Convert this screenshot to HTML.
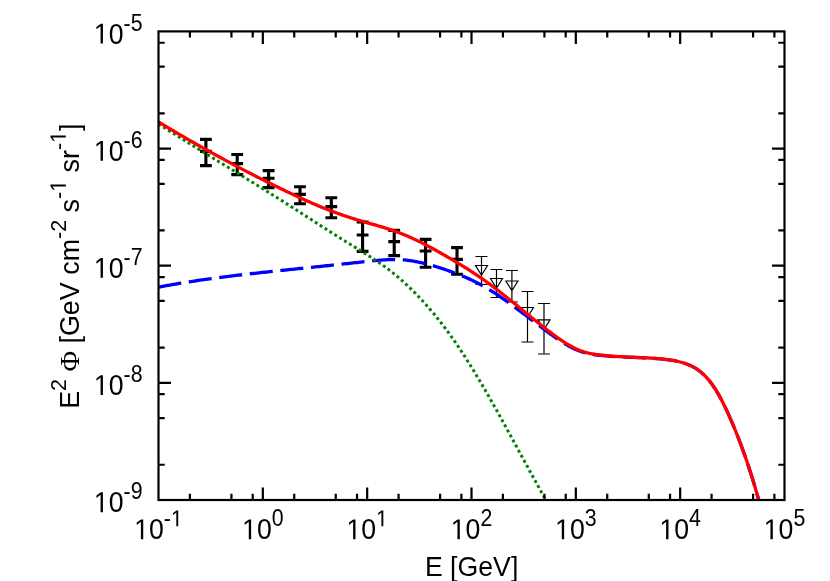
<!DOCTYPE html>
<html><head><meta charset="utf-8"><title>plot</title>
<style>
html,body{margin:0;padding:0;background:#fff;}
body{width:830px;height:581px;overflow:hidden;}
svg{display:block;will-change:transform;}
text{font-family:"Liberation Sans",sans-serif;fill:#000;font-kerning:none;}
.phi{font-family:"Liberation Serif",serif;}
</style></head><body>
<svg width="830" height="581" viewBox="0 0 830 581">
<rect x="0" y="0" width="830" height="581" fill="#fff"/>
<path d="M205.90,139.40V165.60 M200.00,139.40H211.80 M200.00,165.60H211.80 M200.00,151.40H211.80 M237.20,154.50V174.60 M231.30,154.50H243.10 M231.30,174.60H243.10 M231.30,163.60H243.10 M268.60,170.60V187.60 M262.70,170.60H274.50 M262.70,187.60H274.50 M262.70,178.30H274.50 M300.00,186.70V203.70 M294.10,186.70H305.90 M294.10,203.70H305.90 M294.10,194.40H305.90 M331.30,197.70V217.80 M325.40,197.70H337.20 M325.40,217.80H337.20 M325.40,206.60H337.20 M362.60,222.00V251.40 M356.70,222.00H368.50 M356.70,251.40H368.50 M356.70,235.00H368.50 M394.20,230.40V255.60 M388.30,230.40H400.10 M388.30,255.60H400.10 M388.30,241.60H400.10 M425.60,239.40V267.20 M419.70,239.40H431.50 M419.70,267.20H431.50 M419.70,251.00H431.50 M457.00,247.60V274.30 M451.10,247.60H462.90 M451.10,274.30H462.90 M451.10,259.40H462.90" fill="none" stroke="#000" stroke-width="3.1"/>
<path d="M481.50,256.50V284.50 M475.50,256.50H487.50 M475.50,284.50H487.50 M481.50,275.22 L475.50,265.50 L487.50,265.50 Z M496.50,269.50V297.50 M490.50,269.50H502.50 M490.50,297.50H502.50 M496.50,288.22 L490.50,278.50 L502.50,278.50 Z M511.90,270.50V302.00 M505.90,270.50H517.90 M505.90,302.00H517.90 M511.90,290.72 L505.90,281.00 L517.90,281.00 Z M527.50,291.50V342.00 M521.50,291.50H533.50 M521.50,342.00H533.50 M527.50,317.22 L521.50,307.50 L533.50,307.50 Z M544.00,303.50V354.00 M538.00,303.50H550.00 M538.00,354.00H550.00 M544.00,329.52 L538.00,319.80 L550.00,319.80 Z" fill="none" stroke="#000" stroke-width="1.2" stroke-linejoin="miter"/>
<clipPath id="c"><rect x="158.50" y="31.40" width="626.00" height="468.60"/></clipPath>
<g clip-path="url(#c)" fill="none">
<path d="M158.50,287.15 L160.39,286.79 L162.28,286.44 L164.17,286.09 L166.06,285.74 L167.95,285.40 L169.84,285.06 L171.73,284.73 L173.62,284.40 L175.51,284.07 L177.40,283.75 L179.29,283.43 L181.18,283.12 L183.07,282.81 L184.96,282.50 L186.85,282.20 L188.74,281.90 L190.63,281.61 L192.53,281.32 L194.42,281.03 L196.31,280.75 L198.20,280.46 L200.09,280.19 L201.98,279.91 L203.87,279.64 L205.76,279.37 L207.65,279.11 L209.54,278.85 L211.43,278.59 L213.32,278.33 L215.21,278.08 L217.10,277.83 L218.99,277.58 L220.88,277.33 L222.77,277.09 L224.66,276.85 L226.55,276.61 L228.44,276.37 L230.33,276.14 L232.22,275.91 L234.11,275.68 L236.00,275.45 L237.89,275.23 L239.78,275.00 L241.67,274.78 L243.56,274.56 L245.45,274.34 L247.34,274.13 L249.23,273.91 L251.12,273.70 L253.01,273.49 L254.90,273.28 L256.79,273.07 L258.68,272.86 L260.58,272.66 L262.47,272.45 L264.36,272.25 L266.25,272.04 L268.14,271.84 L270.03,271.64 L271.92,271.44 L273.81,271.24 L275.70,271.04 L277.59,270.84 L279.48,270.65 L281.37,270.45 L283.26,270.25 L285.15,270.06 L287.04,269.86 L288.93,269.67 L290.82,269.47 L292.71,269.28 L294.60,269.08 L296.49,268.89 L298.38,268.69 L300.27,268.50 L302.16,268.30 L304.05,268.11 L305.94,267.91 L307.83,267.71 L309.72,267.52 L311.61,267.32 L313.50,267.13 L315.39,266.93 L317.28,266.73 L319.17,266.53 L321.06,266.33 L322.95,266.14 L324.84,265.94 L326.74,265.74 L328.63,265.54 L330.52,265.34 L332.41,265.14 L334.30,264.94 L336.19,264.74 L338.08,264.54 L339.97,264.34 L341.86,264.14 L343.75,263.94 L345.64,263.73 L347.53,263.53 L349.42,263.33 L351.31,263.13 L353.20,262.92 L355.09,262.72 L356.98,262.52 L358.87,262.31 L360.76,262.11 L362.65,261.90 L364.54,261.70 L366.43,261.49 L368.32,261.29 L370.21,261.09 L372.10,260.89 L373.99,260.70 L375.88,260.52 L377.77,260.35 L379.66,260.19 L381.55,260.05 L383.44,259.92 L385.33,259.80 L387.22,259.71 L389.11,259.63 L391.00,259.58 L392.89,259.55 L394.79,259.54 L396.68,259.56 L398.57,259.62 L400.46,259.70 L402.35,259.81 L404.24,259.96 L406.13,260.14 L408.02,260.35 L409.91,260.60 L411.80,260.87 L413.69,261.18 L415.58,261.51 L417.47,261.87 L419.36,262.26 L421.25,262.67 L423.14,263.11 L425.03,263.56 L426.92,264.04 L428.81,264.54 L430.70,265.06 L432.59,265.60 L434.48,266.16 L436.37,266.73 L438.26,267.32 L440.15,267.92 L442.04,268.53 L443.93,269.16 L445.82,269.79 L447.71,270.44 L449.60,271.10 L451.49,271.78 L453.38,272.46 L455.27,273.17 L457.16,273.89 L459.05,274.63 L460.95,275.39 L462.84,276.16 L464.73,276.96 L466.62,277.78 L468.51,278.62 L470.40,279.49 L472.29,280.38 L474.18,281.29 L476.07,282.23 L477.96,283.20 L479.85,284.20 L481.74,285.23 L483.63,286.28 L485.52,287.37 L487.41,288.49 L489.30,289.63 L491.19,290.80 L493.08,292.00 L494.97,293.22 L496.86,294.47 L498.75,295.73 L500.64,297.02 L502.53,298.33 L504.42,299.65 L506.31,300.99 L508.20,302.35 L510.09,303.72 L511.98,305.10 L513.87,306.49 L515.76,307.90 L517.65,309.31 L519.54,310.73 L521.43,312.16 L523.32,313.60 L525.21,315.04 L527.11,316.48 L529.00,317.92 L530.89,319.36 L532.78,320.81 L534.67,322.25 L536.56,323.69 L538.45,325.12 L540.34,326.54 L542.23,327.96 L544.12,329.38 L546.01,330.78 L547.90,332.17 L549.79,333.55 L551.68,334.91 L553.57,336.26 L555.46,337.59 L557.35,338.89 L559.24,340.17 L561.13,341.41 L563.02,342.62 L564.91,343.79 L566.80,344.92 L568.69,346.00 L570.58,347.03 L572.47,348.00 L574.36,348.92 L576.25,349.78 L578.14,350.57 L580.03,351.29 L581.92,351.94 L583.81,352.52 L585.70,353.04 L587.59,353.50 L589.48,353.90 L591.37,354.24 L593.26,354.53 L595.16,354.79 L597.05,355.03 L598.94,355.24 L600.83,355.44 L602.72,355.63 L604.61,355.81 L606.50,355.98 L608.39,356.14 L610.28,356.29 L612.17,356.43 L614.06,356.55 L615.95,356.67 L617.84,356.77 L619.73,356.87 L621.62,356.96 L623.51,357.04 L625.40,357.12 L627.29,357.20 L629.18,357.27 L631.07,357.34 L632.96,357.40 L634.85,357.47 L636.74,357.54 L638.63,357.61 L640.52,357.68 L642.41,357.76 L644.30,357.84 L646.19,357.93 L648.08,358.02 L649.97,358.12 L651.86,358.24 L653.75,358.36 L655.64,358.49 L657.53,358.63 L659.42,358.79 L661.32,358.95 L663.21,359.14 L665.10,359.34 L666.99,359.57 L668.88,359.82 L670.77,360.09 L672.66,360.40 L674.55,360.74 L676.44,361.12 L678.33,361.54 L680.22,362.01 L682.11,362.53 L684.00,363.10 L685.89,363.74 L687.78,364.45 L689.67,365.24 L691.56,366.12 L693.45,367.10 L695.34,368.18 L697.23,369.40 L699.12,370.75 L701.01,372.24 L702.90,373.88 L704.79,375.68 L706.68,377.65 L708.57,379.80 L710.46,382.16 L712.35,384.71 L714.24,387.46 L716.13,390.42 L718.02,393.57 L719.91,396.92 L721.80,400.46 L723.69,404.20 L725.58,408.10 L727.47,412.15 L729.37,416.33 L731.26,420.63 L733.15,425.07 L735.04,429.65 L736.93,434.36 L738.82,439.22 L740.71,444.21 L742.60,449.34 L744.49,454.62 L746.38,460.05 L748.27,465.64 L750.16,471.41 L752.05,477.35 L753.94,483.50 L755.83,489.85 L757.72,496.43 L759.61,503.26 L761.50,505.98" stroke="#0000ff" stroke-width="3.30" stroke-dasharray="23.1 7.65"/>
<path d="M158.50,123.92 L160.39,125.13 L162.28,126.34 L164.17,127.55 L166.06,128.75 L167.95,129.95 L169.84,131.15 L171.73,132.35 L173.62,133.54 L175.51,134.73 L177.40,135.92 L179.29,137.11 L181.18,138.30 L183.07,139.48 L184.96,140.66 L186.85,141.84 L188.74,143.02 L190.63,144.20 L192.53,145.37 L194.42,146.55 L196.31,147.72 L198.20,148.89 L200.09,150.06 L201.98,151.23 L203.87,152.40 L205.76,153.57 L207.65,154.73 L209.54,155.90 L211.43,157.06 L213.32,158.23 L215.21,159.39 L217.10,160.55 L218.99,161.72 L220.88,162.88 L222.77,164.04 L224.66,165.20 L226.55,166.36 L228.44,167.53 L230.33,168.69 L232.22,169.85 L234.11,171.01 L236.00,172.17 L237.89,173.34 L239.78,174.50 L241.67,175.67 L243.56,176.83 L245.45,178.00 L247.34,179.16 L249.23,180.33 L251.12,181.50 L253.01,182.67 L254.90,183.84 L256.79,185.01 L258.68,186.18 L260.58,187.36 L262.47,188.53 L264.36,189.71 L266.25,190.89 L268.14,192.07 L270.03,193.25 L271.92,194.44 L273.81,195.62 L275.70,196.81 L277.59,198.00 L279.48,199.19 L281.37,200.39 L283.26,201.59 L285.15,202.78 L287.04,203.99 L288.93,205.19 L290.82,206.40 L292.71,207.61 L294.60,208.82 L296.49,210.04 L298.38,211.25 L300.27,212.47 L302.16,213.69 L304.05,214.91 L305.94,216.13 L307.83,217.35 L309.72,218.57 L311.61,219.80 L313.50,221.02 L315.39,222.24 L317.28,223.46 L319.17,224.68 L321.06,225.89 L322.95,227.11 L324.84,228.33 L326.74,229.54 L328.63,230.75 L330.52,231.95 L332.41,233.16 L334.30,234.36 L336.19,235.56 L338.08,236.75 L339.97,237.94 L341.86,239.13 L343.75,240.31 L345.64,241.49 L347.53,242.66 L349.42,243.83 L351.31,244.99 L353.20,246.15 L355.09,247.30 L356.98,248.46 L358.87,249.61 L360.76,250.77 L362.65,251.94 L364.54,253.11 L366.43,254.29 L368.32,255.48 L370.21,256.69 L372.10,257.90 L373.99,259.14 L375.88,260.40 L377.77,261.67 L379.66,262.97 L381.55,264.29 L383.44,265.64 L385.33,267.02 L387.22,268.43 L389.11,269.86 L391.00,271.34 L392.89,272.84 L394.79,274.38 L396.68,275.95 L398.57,277.56 L400.46,279.20 L402.35,280.88 L404.24,282.58 L406.13,284.33 L408.02,286.10 L409.91,287.91 L411.80,289.75 L413.69,291.63 L415.58,293.54 L417.47,295.49 L419.36,297.47 L421.25,299.48 L423.14,301.53 L425.03,303.61 L426.92,305.73 L428.81,307.89 L430.70,310.08 L432.59,312.30 L434.48,314.57 L436.37,316.87 L438.26,319.22 L440.15,321.60 L442.04,324.02 L443.93,326.49 L445.82,329.00 L447.71,331.55 L449.60,334.14 L451.49,336.78 L453.38,339.46 L455.27,342.19 L457.16,344.95 L459.05,347.76 L460.95,350.61 L462.84,353.50 L464.73,356.43 L466.62,359.39 L468.51,362.39 L470.40,365.42 L472.29,368.48 L474.18,371.58 L476.07,374.70 L477.96,377.86 L479.85,381.04 L481.74,384.25 L483.63,387.49 L485.52,390.75 L487.41,394.03 L489.30,397.34 L491.19,400.66 L493.08,404.01 L494.97,407.37 L496.86,410.75 L498.75,414.15 L500.64,417.56 L502.53,420.99 L504.42,424.43 L506.31,427.88 L508.20,431.33 L510.09,434.80 L511.98,438.27 L513.87,441.74 L515.76,445.22 L517.65,448.70 L519.54,452.19 L521.43,455.67 L523.32,459.14 L525.21,462.62 L527.11,466.08 L529.00,469.54 L530.89,473.00 L532.78,476.44 L534.67,479.87 L536.56,483.29 L538.45,486.69 L540.34,490.08 L542.23,493.45 L544.12,496.80 L546.01,500.13 L547.90,503.44 L549.79,506.88 L551.68,510.32 L553.57,513.76 L555.46,517.20" stroke="#008000" stroke-width="3" stroke-dasharray="2.9 2.87" stroke-dashoffset="0.00"/>
<path d="M158.50,121.90 L160.39,123.05 L162.28,124.20 L164.17,125.34 L166.06,126.48 L167.95,127.61 L169.84,128.74 L171.73,129.86 L173.62,130.98 L175.51,132.10 L177.40,133.21 L179.29,134.32 L181.18,135.43 L183.07,136.53 L184.96,137.62 L186.85,138.72 L188.74,139.81 L190.63,140.89 L192.53,141.97 L194.42,143.05 L196.31,144.13 L198.20,145.20 L200.09,146.27 L201.98,147.33 L203.87,148.39 L205.76,149.45 L207.65,150.50 L209.54,151.55 L211.43,152.60 L213.32,153.64 L215.21,154.68 L217.10,155.72 L218.99,156.75 L220.88,157.78 L222.77,158.80 L224.66,159.83 L226.55,160.85 L228.44,161.86 L230.33,162.88 L232.22,163.89 L234.11,164.89 L236.00,165.90 L237.89,166.90 L239.78,167.89 L241.67,168.89 L243.56,169.88 L245.45,170.86 L247.34,171.85 L249.23,172.83 L251.12,173.80 L253.01,174.78 L254.90,175.75 L256.79,176.71 L258.68,177.67 L260.58,178.63 L262.47,179.59 L264.36,180.54 L266.25,181.49 L268.14,182.43 L270.03,183.38 L271.92,184.31 L273.81,185.25 L275.70,186.18 L277.59,187.10 L279.48,188.02 L281.37,188.94 L283.26,189.85 L285.15,190.76 L287.04,191.67 L288.93,192.57 L290.82,193.46 L292.71,194.36 L294.60,195.24 L296.49,196.12 L298.38,197.00 L300.27,197.87 L302.16,198.73 L304.05,199.58 L305.94,200.43 L307.83,201.27 L309.72,202.11 L311.61,202.93 L313.50,203.75 L315.39,204.56 L317.28,205.36 L319.17,206.15 L321.06,206.93 L322.95,207.70 L324.84,208.47 L326.74,209.22 L328.63,209.96 L330.52,210.69 L332.41,211.41 L334.30,212.12 L336.19,212.82 L338.08,213.51 L339.97,214.18 L341.86,214.85 L343.75,215.50 L345.64,216.14 L347.53,216.77 L349.42,217.38 L351.31,217.99 L353.20,218.58 L355.09,219.16 L356.98,219.74 L358.87,220.30 L360.76,220.86 L362.65,221.41 L364.54,221.96 L366.43,222.50 L368.32,223.04 L370.21,223.57 L372.10,224.11 L373.99,224.65 L375.88,225.19 L377.77,225.74 L379.66,226.30 L381.55,226.86 L383.44,227.43 L385.33,228.02 L387.22,228.61 L389.11,229.22 L391.00,229.85 L392.89,230.50 L394.79,231.16 L396.68,231.84 L398.57,232.54 L400.46,233.26 L402.35,234.00 L404.24,234.76 L406.13,235.54 L408.02,236.35 L409.91,237.18 L411.80,238.03 L413.69,238.89 L415.58,239.78 L417.47,240.69 L419.36,241.61 L421.25,242.55 L423.14,243.51 L425.03,244.48 L426.92,245.47 L428.81,246.47 L430.70,247.48 L432.59,248.51 L434.48,249.54 L436.37,250.59 L438.26,251.65 L440.15,252.72 L442.04,253.79 L443.93,254.87 L445.82,255.96 L447.71,257.06 L449.60,258.16 L451.49,259.27 L453.38,260.38 L455.27,261.51 L457.16,262.64 L459.05,263.79 L460.95,264.94 L462.84,266.10 L464.73,267.27 L466.62,268.46 L468.51,269.65 L470.40,270.86 L472.29,272.08 L474.18,273.32 L476.07,274.57 L477.96,275.84 L479.85,277.13 L481.74,278.43 L483.63,279.76 L485.52,281.10 L487.41,282.47 L489.30,283.85 L491.19,285.25 L493.08,286.66 L494.97,288.09 L496.86,289.54 L498.75,291.00 L500.64,292.47 L502.53,293.95 L504.42,295.45 L506.31,296.95 L508.20,298.47 L510.09,299.99 L511.98,301.51 L513.87,303.05 L515.76,304.59 L517.65,306.13 L519.54,307.67 L521.43,309.22 L523.32,310.77 L525.21,312.31 L527.11,313.86 L529.00,315.40 L530.89,316.94 L532.78,318.47 L534.67,320.00 L536.56,321.52 L538.45,323.04 L540.34,324.54 L542.23,326.03 L544.12,327.52 L546.01,328.99 L547.90,330.44 L549.79,331.89 L551.68,333.32 L553.57,334.73 L555.46,336.12 L557.35,337.48 L559.24,338.82 L561.13,340.12 L563.02,341.38 L564.91,342.61 L566.80,343.78 L568.69,344.92 L570.58,345.99 L572.47,347.02 L574.36,347.98 L576.25,348.89 L578.14,349.72 L580.03,350.49 L581.92,351.18 L583.81,351.80 L585.70,352.36 L587.59,352.86 L589.48,353.29 L591.37,353.67 L593.26,354.00 L595.16,354.29 L597.05,354.55 L598.94,354.80 L600.83,355.02 L602.72,355.24 L604.61,355.44 L606.50,355.63 L608.39,355.82 L610.28,355.99 L612.17,356.14 L614.06,356.29 L615.95,356.42 L617.84,356.54 L619.73,356.65 L621.62,356.76 L623.51,356.85 L625.40,356.95 L627.29,357.03 L629.18,357.11 L631.07,357.19 L632.96,357.27 L634.85,357.34 L636.74,357.42 L638.63,357.50 L640.52,357.58 L642.41,357.66 L644.30,357.75 L646.19,357.84 L648.08,357.94 L649.97,358.05 L651.86,358.16 L653.75,358.29 L655.64,358.42 L657.53,358.57 L659.42,358.73 L661.32,358.90 L663.21,359.09 L665.10,359.30 L666.99,359.53 L668.88,359.78 L670.77,360.06 L672.66,360.37 L674.55,360.71 L676.44,361.09 L678.33,361.51 L680.22,361.98 L682.11,362.50 L684.00,363.08 L685.89,363.72 L687.78,364.43 L689.67,365.22 L691.56,366.10 L693.45,367.08 L695.34,368.17 L697.23,369.38 L699.12,370.73 L701.01,372.22 L702.90,373.86 L704.79,375.66 L706.68,377.63 L708.57,379.79 L710.46,382.14 L712.35,384.69 L714.24,387.45 L716.13,390.40 L718.02,393.56 L719.91,396.90 L721.80,400.45 L723.69,404.18 L725.58,408.09 L727.47,412.14 L729.37,416.31 L731.26,420.62 L733.15,425.06 L735.04,429.63 L736.93,434.35 L738.82,439.20 L740.71,444.19 L742.60,449.32 L744.49,454.60 L746.38,460.03 L748.27,465.62 L750.16,471.39 L752.05,477.33 L753.94,483.47 L755.83,489.83 L757.72,496.41 L759.61,503.23 L761.50,505.96" stroke="#ff0000" stroke-width="3.30" stroke-linejoin="round"/>
</g>
<path d="M189.91,500.00V493.80 M189.91,31.40V37.60 M231.43,500.00V493.80 M231.43,31.40V37.60 M252.72,500.00V493.80 M252.72,31.40V37.60 M262.83,500.00V487.50 M262.83,31.40V43.90 M294.24,500.00V493.80 M294.24,31.40V37.60 M335.76,500.00V493.80 M335.76,31.40V37.60 M357.06,500.00V493.80 M357.06,31.40V37.60 M367.17,500.00V487.50 M367.17,31.40V43.90 M398.57,500.00V493.80 M398.57,31.40V37.60 M440.09,500.00V493.80 M440.09,31.40V37.60 M461.39,500.00V493.80 M461.39,31.40V37.60 M471.50,500.00V487.50 M471.50,31.40V43.90 M502.91,500.00V493.80 M502.91,31.40V37.60 M544.43,500.00V493.80 M544.43,31.40V37.60 M565.72,500.00V493.80 M565.72,31.40V37.60 M575.83,500.00V487.50 M575.83,31.40V43.90 M607.24,500.00V493.80 M607.24,31.40V37.60 M648.76,500.00V493.80 M648.76,31.40V37.60 M670.06,500.00V493.80 M670.06,31.40V37.60 M680.17,500.00V487.50 M680.17,31.40V43.90 M711.57,500.00V493.80 M711.57,31.40V37.60 M753.09,500.00V493.80 M753.09,31.40V37.60 M774.39,500.00V493.80 M774.39,31.40V37.60 M158.50,464.73H164.70 M784.50,464.73H778.30 M158.50,418.12H164.70 M784.50,418.12H778.30 M158.50,394.20H164.70 M784.50,394.20H778.30 M158.50,382.85H171.00 M784.50,382.85H772.00 M158.50,347.58H164.70 M784.50,347.58H778.30 M158.50,300.97H164.70 M784.50,300.97H778.30 M158.50,277.05H164.70 M784.50,277.05H778.30 M158.50,265.70H171.00 M784.50,265.70H772.00 M158.50,230.43H164.70 M784.50,230.43H778.30 M158.50,183.82H164.70 M784.50,183.82H778.30 M158.50,159.90H164.70 M784.50,159.90H778.30 M158.50,148.55H171.00 M784.50,148.55H772.00 M158.50,113.28H164.70 M784.50,113.28H778.30 M158.50,66.67H164.70 M784.50,66.67H778.30 M158.50,42.75H164.70 M784.50,42.75H778.30" fill="none" stroke="#000" stroke-width="2.20"/>
<rect x="158.50" y="31.40" width="626.00" height="468.60" fill="none" stroke="#000" stroke-width="2.20"/>
<g transform="translate(158.50,539.20) scale(1,1.080)"><path d="M515 0V1237L197 1010V1180L530 1409H696V0Z" transform="translate(-24.32,0.00) scale(0.01302,-0.01302)"/><text x="-9.48" y="0.00" font-size="26.67">0</text><path d="M515 0V1237L197 1010V1180L530 1409H696V0Z" transform="translate(12.45,-11.94) scale(0.01042,-0.01042)"/><text x="5.35" y="-11.94" font-size="21.33">-</text></g>
<g transform="translate(262.83,539.20) scale(1,1.080)"><path d="M515 0V1237L197 1010V1180L530 1409H696V0Z" transform="translate(-20.76,0.00) scale(0.01302,-0.01302)"/><text x="-5.93" y="0.00" font-size="26.67">0</text><text x="8.90" y="-11.94" font-size="21.33">0</text></g>
<g transform="translate(367.17,539.20) scale(1,1.080)"><path d="M515 0V1237L197 1010V1180L530 1409H696V0Z" transform="translate(-20.76,0.00) scale(0.01302,-0.01302)"/><text x="-5.93" y="0.00" font-size="26.67">0</text><path d="M515 0V1237L197 1010V1180L530 1409H696V0Z" transform="translate(8.90,-11.94) scale(0.01042,-0.01042)"/></g>
<g transform="translate(471.50,539.20) scale(1,1.080)"><path d="M515 0V1237L197 1010V1180L530 1409H696V0Z" transform="translate(-20.76,0.00) scale(0.01302,-0.01302)"/><text x="-5.93" y="0.00" font-size="26.67">0</text><text x="8.90" y="-11.94" font-size="21.33">2</text></g>
<g transform="translate(575.83,539.20) scale(1,1.080)"><path d="M515 0V1237L197 1010V1180L530 1409H696V0Z" transform="translate(-20.76,0.00) scale(0.01302,-0.01302)"/><text x="-5.93" y="0.00" font-size="26.67">0</text><text x="8.90" y="-11.94" font-size="21.33">3</text></g>
<g transform="translate(680.17,539.20) scale(1,1.080)"><path d="M515 0V1237L197 1010V1180L530 1409H696V0Z" transform="translate(-20.76,0.00) scale(0.01302,-0.01302)"/><text x="-5.93" y="0.00" font-size="26.67">0</text><text x="8.90" y="-11.94" font-size="21.33">4</text></g>
<g transform="translate(784.50,539.20) scale(1,1.080)"><path d="M515 0V1237L197 1010V1180L530 1409H696V0Z" transform="translate(-20.76,0.00) scale(0.01302,-0.01302)"/><text x="-5.93" y="0.00" font-size="26.67">0</text><text x="8.90" y="-11.94" font-size="21.33">5</text></g>
<g transform="translate(142.50,512.15) scale(1,1.080)"><path d="M515 0V1237L197 1010V1180L530 1409H696V0Z" transform="translate(-48.63,0.00) scale(0.01302,-0.01302)"/><text x="-33.80" y="0.00" font-size="26.67">0</text><text x="-18.97 -11.86" y="-11.94" font-size="21.33">-9</text></g>
<g transform="translate(142.50,395.00) scale(1,1.080)"><path d="M515 0V1237L197 1010V1180L530 1409H696V0Z" transform="translate(-48.63,0.00) scale(0.01302,-0.01302)"/><text x="-33.80" y="0.00" font-size="26.67">0</text><text x="-18.97 -11.86" y="-11.94" font-size="21.33">-8</text></g>
<g transform="translate(142.50,277.85) scale(1,1.080)"><path d="M515 0V1237L197 1010V1180L530 1409H696V0Z" transform="translate(-48.63,0.00) scale(0.01302,-0.01302)"/><text x="-33.80" y="0.00" font-size="26.67">0</text><text x="-18.97 -11.86" y="-11.94" font-size="21.33">-7</text></g>
<g transform="translate(142.50,160.70) scale(1,1.080)"><path d="M515 0V1237L197 1010V1180L530 1409H696V0Z" transform="translate(-48.63,0.00) scale(0.01302,-0.01302)"/><text x="-33.80" y="0.00" font-size="26.67">0</text><text x="-18.97 -11.86" y="-11.94" font-size="21.33">-6</text></g>
<g transform="translate(142.50,43.55) scale(1,1.080)"><path d="M515 0V1237L197 1010V1180L530 1409H696V0Z" transform="translate(-48.63,0.00) scale(0.01302,-0.01302)"/><text x="-33.80" y="0.00" font-size="26.67">0</text><text x="-18.97 -11.86" y="-11.94" font-size="21.33">-5</text></g>
<g transform="translate(471.6,576.3) scale(1,1.045)"><text x="-46.69 -21.49 -14.08 6.66 21.49 39.28" y="0.00" font-size="26.67">E[GeV]</text></g>
<g transform="translate(79.3,408.8) rotate(-90) scale(1.0075,1.045)"><text x="0.00" y="0.00" font-size="26.67">E</text><text x="17.79" y="-12.90" font-size="21.33">2</text><text class="phi" transform="translate(37.06,0) scale(1.055,1)" x="0" y="0.00" font-size="26.67">Φ</text><text x="64.82" y="0.00" font-size="26.67">[</text><text x="72.23" y="0.00" font-size="26.67">G</text><text x="92.97" y="0.00" font-size="26.67">e</text><text x="107.80" y="0.00" font-size="26.67">V</text><text x="133.00" y="0.00" font-size="26.67">c</text><text x="146.34" y="0.00" font-size="26.67">m</text><text x="168.55 175.66" y="-12.90" font-size="21.33">-2</text><text x="194.93" y="0.00" font-size="26.67">s</text><path d="M515 0V1237L197 1010V1180L530 1409H696V0Z" transform="translate(215.37,-12.90) scale(0.01042,-0.01042)"/><text x="208.26" y="-12.90" font-size="21.33">-</text><text x="234.64 247.97" y="0.00" font-size="26.67">sr</text><path d="M515 0V1237L197 1010V1180L530 1409H696V0Z" transform="translate(263.96,-12.90) scale(0.01042,-0.01042)"/><text x="256.85" y="-12.90" font-size="21.33">-</text><text x="275.82" y="0.00" font-size="26.67">]</text></g>
</svg></body></html>
